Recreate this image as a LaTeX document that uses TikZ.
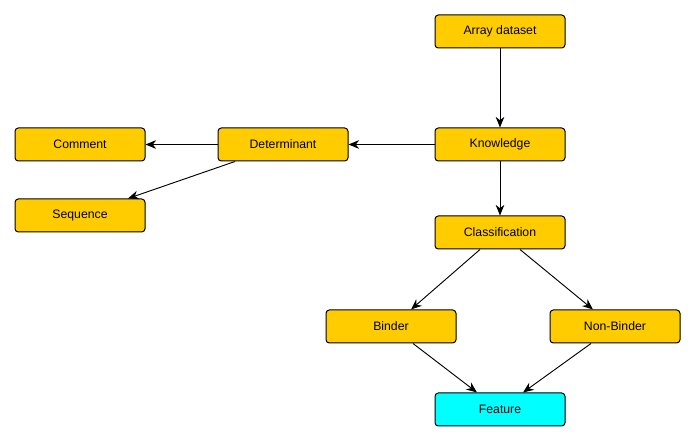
\documentclass[tikz,border=0pt]{standalone}
\usepackage{fontspec}
\setmainfont{Liberation Sans}
\usetikzlibrary{arrows.meta,calc}
\begin{document}
\begin{tikzpicture}[x=0.75pt,y=-0.75pt,
  box/.style={draw=black,line width=0.75pt,rounded corners=2.5pt,fill=boxgold,
    minimum width=97.5pt,minimum height=24.75pt,inner sep=0pt,
    font=\fontsize{9.2}{11}\selectfont},
  link/.style={draw=black,line width=0.7pt,-{Stealth[length=8pt,width=6.5pt]}}]
\definecolor{boxgold}{HTML}{FFCC00}
\definecolor{featcyan}{HTML}{00FFFF}
\useasboundingbox (0,0) rectangle (694,442);
\node[box] (arr) at (500,31.5) {Array dataset};
\node[box] (know) at (500,144.5) {Knowledge};
\node[box] (det) at (283,144.5) {Determinant};
\node[box] (com) at (80,144.5) {Comment};
\node[box] (seq) at (80,215.5) {Sequence};
\node[box] (cls) at (500,232.5) {Classification};
\node[box] (bind) at (391,326.5) {Binder};
\node[box] (nbind) at (615,326.5) {Non-Binder};
\node[box,fill=featcyan] (feat) at (500,409.5) {Feature};
\draw[link] (arr) -- (know);
\draw[link] (know) -- (det);
\draw[link] (det) -- (com);
\draw[link] ($(det.south)+(-48,0)$) -- ($(seq.north)+(48,0)$);
\draw[link] (know) -- (cls);
\draw[link] ($(cls.south)+(-20,0)$) -- ($(bind.north)+(20,0)$);
\draw[link] ($(cls.south)+(20,0)$) -- ($(nbind.north)+(-22,0)$);
\draw[link] ($(bind.south)+(22,0)$) -- ($(feat.north)+(-23,0)$);
\draw[link] ($(nbind.south)+(-24,0)$) -- ($(feat.north)+(23,0)$);
\end{tikzpicture}
\end{document}
